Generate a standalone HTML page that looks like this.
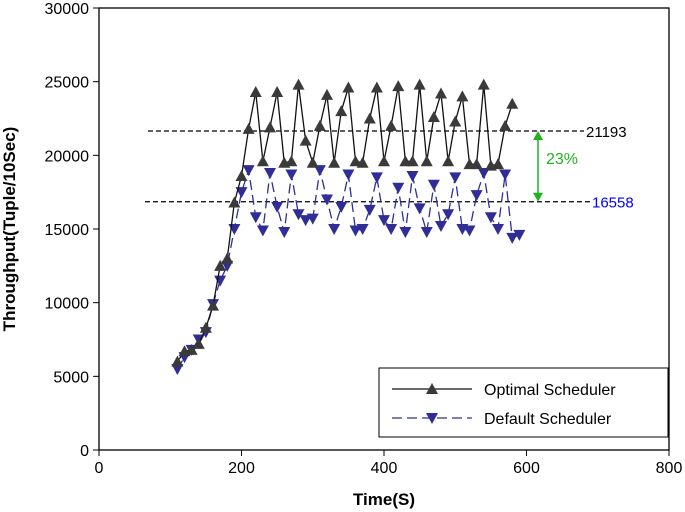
<!DOCTYPE html>
<html><head><meta charset="utf-8"><style>
body{margin:0;background:#fff;}
svg{display:block;font-family:"Liberation Sans",sans-serif;}
</style></head><body>
<svg id="c" width="685" height="512"></svg>
<script>
const xTicks=[0,200,400,600,800];
const yTicks=[0,5000,10000,15000,20000,25000,30000];
const optX=[110,120,130,140,150,160,170,180,190,200,210,220,230,240,250,260,270,280,290,300,310,320,330,340,350,360,370,380,390,400,410,420,430,440,450,460,470,480,490,500,510,520,530,540,550,560,570,580];
const optY=[6000,6700,6800,7200,8300,9800,12500,13000,16800,18600,21800,24300,19600,21900,24300,19500,19600,24800,21000,19500,22000,24100,19500,23000,24600,19600,19500,22500,24600,19600,22000,24700,19600,19600,24800,19600,22600,24200,19600,22300,24000,19400,19400,24800,19300,19400,22000,23500];
const defX=[110,120,130,140,150,160,170,180,190,200,210,220,230,240,250,260,270,280,290,300,310,320,330,340,350,360,370,380,390,400,410,420,430,440,450,460,470,480,490,500,510,520,530,540,550,560,570,580,590];
const defY=[5500,6300,6800,7500,8000,9900,11500,12500,15000,17500,19000,15800,14900,18800,16500,14800,18700,16000,15600,15700,19000,17000,15000,16500,18700,14900,15000,16300,18500,15600,15000,17800,14800,18600,16400,14800,18000,15200,16000,18500,15000,14900,17300,18800,15800,15000,18700,14400,14600];
const avgLabels=["21193","16558"];
const avgVals=[21650,16850];
const X=v=>99+v*(570/800), Y=v=>450-v*(442/30000);
const s=document.getElementById('c');const NS='http://www.w3.org/2000/svg';
function el(t,a,p){const e=document.createElementNS(NS,t);for(const k in a)e.setAttribute(k,a[k]);(p||s).appendChild(e);return e;}
let e;
e=el('rect',{x:X(0),y:Y(30000),width:X(800)-X(0),height:Y(0)-Y(30000),fill:'none',stroke:'#000','stroke-width':1.3});

xTicks.forEach(v=>{el('line',{x1:X(v),x2:X(v),y1:450,y2:456,stroke:'#000'});
 e=el('text',{x:X(v),y:473,'text-anchor':'middle','font-size':16});e.textContent=v;
 });
yTicks.forEach(v=>{el('line',{x1:93,x2:99,y1:Y(v),y2:Y(v),stroke:'#000'});
 e=el('text',{x:89,y:Y(v)+6,'text-anchor':'end','font-size':16});e.textContent=v;
 });
e=el('text',{x:384,y:505,'text-anchor':'middle','font-size':17,'font-weight':'bold'});e.textContent='Time(S)';

e=el('text',{x:0,y:0,'text-anchor':'middle','font-size':17,'font-weight':'bold',transform:'translate(15,229) rotate(-90)'});e.textContent='Throughput(Tuple/10Sec)';

[[148,584,'#000'],[145,590,'#00f']].forEach((r,i)=>{
 e=el('line',{x1:r[0],x2:r[1],y1:Y(avgVals[i]),y2:Y(avgVals[i]),stroke:'#000','stroke-width':1.2,'stroke-dasharray':'5,3'});
 
 e=el('text',{x:r[1]+2,y:Y(avgVals[i])+6,'font-size':15,fill:r[2]});e.textContent=avgLabels[i];
 });
const ax=538;
e=el('line',{x1:ax,x2:ax,y1:Y(avgVals[0])+6,y2:Y(avgVals[1])-6,stroke:'#1db31d','stroke-width':1.5});

el('path',{d:`M${ax-5},${Y(avgVals[0])+9}L${ax},${Y(avgVals[0])}L${ax+5},${Y(avgVals[0])+9}Z`,fill:'#1db31d'});
el('path',{d:`M${ax-5},${Y(avgVals[1])-9}L${ax},${Y(avgVals[1])}L${ax+5},${Y(avgVals[1])-9}Z`,fill:'#1db31d'});
e=el('text',{x:546,y:164,'font-size':16,fill:'#1db31d'});e.textContent='23%';

function up(x,y,c){return el('path',{d:`M${x-6},${y+5}L${x},${y-6}L${x+6},${y+5}Z`,fill:c});}
function dn(x,y,c){return el('path',{d:`M${x-6},${y-5}L${x},${y+6}L${x+6},${y-5}Z`,fill:c});}
e=el('polyline',{points:defX.map((x,i)=>X(x)+','+Y(defY[i])).join(' '),fill:'none',stroke:'#2e2e96','stroke-width':1.3,'stroke-dasharray':'10,5'});

defX.forEach((x,i)=>{e=dn(X(x),Y(defY[i]),'#2e2e96');});
e=el('polyline',{points:optX.map((x,i)=>X(x)+','+Y(optY[i])).join(' '),fill:'none',stroke:'#111','stroke-width':1.3});

optX.forEach((x,i)=>{e=up(X(x),Y(optY[i]),'#3a3a3a');});
e=el('rect',{x:379,y:368,width:289,height:69,fill:'#fff',stroke:'#000'});

el('line',{x1:392,x2:472,y1:389,y2:389,stroke:'#111','stroke-width':1.3});up(432,389,'#3a3a3a');
e=el('text',{x:484,y:395,'font-size':16});e.textContent='Optimal Scheduler';

el('line',{x1:392,x2:472,y1:418,y2:418,stroke:'#2e2e96','stroke-width':1.3,'stroke-dasharray':'10,5'});dn(432,418,'#2e2e96');
e=el('text',{x:484,y:424,'font-size':16});e.textContent='Default Scheduler';

</script>
</body></html>
